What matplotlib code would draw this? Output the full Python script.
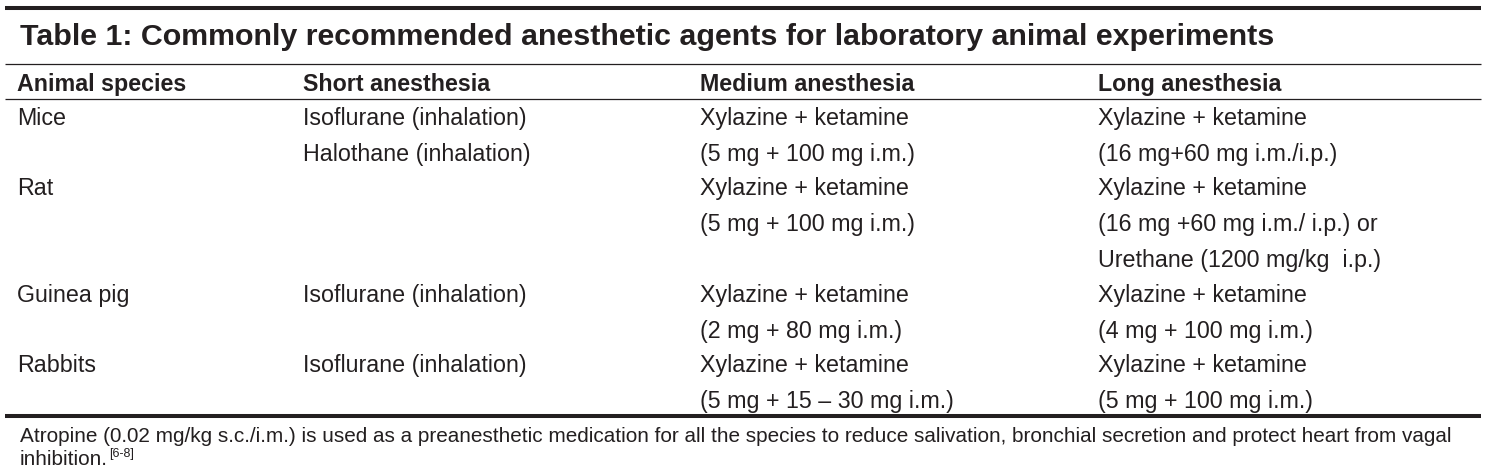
import matplotlib
matplotlib.use("Agg")
import matplotlib.pyplot as plt

W, H = 1486, 471
title = "Table 1: Commonly recommended anesthetic agents for laboratory animal experiments"
headers = ["Animal species", "Short anesthesia", "Medium anesthesia", "Long anesthesia"]
species = ["Mice", "", "Rat", "", "", "Guinea pig", "", "Rabbits", ""]
short = ["Isoflurane (inhalation)", "Halothane (inhalation)", "", "", "", "Isoflurane (inhalation)", "", "Isoflurane (inhalation)", ""]
medium = ["Xylazine + ketamine", "(5 mg + 100 mg i.m.)", "Xylazine + ketamine", "(5 mg + 100 mg i.m.)", "",
          "Xylazine + ketamine", "(2 mg + 80 mg i.m.)", "Xylazine + ketamine", "(5 mg + 15 \u2013 30 mg i.m.)"]
long_ = ["Xylazine + ketamine", "(16 mg+60 mg i.m./i.p.)", "Xylazine + ketamine", "(16 mg +60 mg i.m./ i.p.) or",
         "Urethane (1200 mg/kg  i.p.)", "Xylazine + ketamine", "(4 mg + 100 mg i.m.)", "Xylazine + ketamine",
         "(5 mg + 100 mg i.m.)"]
footnote1 = "Atropine (0.02 mg/kg s.c./i.m.) is used as a preanesthetic medication for all the species to reduce salivation, bronchial secretion and protect heart from vagal"
footnote2 = "inhibition."
footnote_ref = "[6-8]"

plt.rcParams["font.family"] = ["Liberation Sans", "DejaVu Sans"]
INK = "#231f20"

fig = plt.figure(figsize=(W / 100, H / 100), dpi=100)
fig.patch.set_facecolor("white")

def fy(py):
    return 1 - py / H

def fx(px):
    return px / W

renderer = fig.canvas.get_renderer()

def fit(s, target, weight="normal", start=16):
    t = fig.text(0, 0, s, fontsize=start, fontweight=weight)
    w = t.get_window_extent(renderer).width
    t.remove()
    return start * target / w

col_x = [17, 303, 700, 1098]
row_base = [125, 161, 195, 231, 267, 302, 338, 372, 408]

title_fs = fit(title, 1273 - 20, "bold")
body_fs = fit("Isoflurane (inhalation)", 527 - 303)
head_fs = fit("Animal species", 186 - 17, "bold")
foot_fs = fit(footnote1, 1457 - 20)

def hline(py, lw):
    fig.add_artist(plt.Line2D([fx(5), fx(1481)], [fy(py), fy(py)], color=INK, lw=lw,
                              solid_capstyle="butt", transform=fig.transFigure))

hline(7.5, 2.9)
hline(64.3, 0.9)
hline(99.3, 0.9)
hline(416.2, 2.9)

fig.text(fx(20), fy(45), title, fontsize=title_fs, fontweight="bold", va="baseline", ha="left", color=INK)
for x, h in zip(col_x, headers):
    fig.text(fx(x), fy(91), h, fontsize=head_fs, fontweight="bold", va="baseline", ha="left", color=INK)
for y, a, b, c, d in zip(row_base, species, short, medium, long_):
    for x, s in zip(col_x, (a, b, c, d)):
        if s:
            fig.text(fx(x), fy(y), s, fontsize=body_fs, va="baseline", ha="left", color=INK)

fig.text(fx(20), fy(442), footnote1, fontsize=foot_fs, va="baseline", ha="left", color=INK)
t2 = fig.text(fx(20), fy(465), footnote2, fontsize=foot_fs, va="baseline", ha="left", color=INK)
w2 = t2.get_window_extent(renderer).width
fig.text(fx(20 + w2 + 1), fy(457), footnote_ref, fontsize=foot_fs * 0.6, va="baseline", ha="left", color=INK)

fig.savefig("out.png", dpi=100, facecolor="white")
